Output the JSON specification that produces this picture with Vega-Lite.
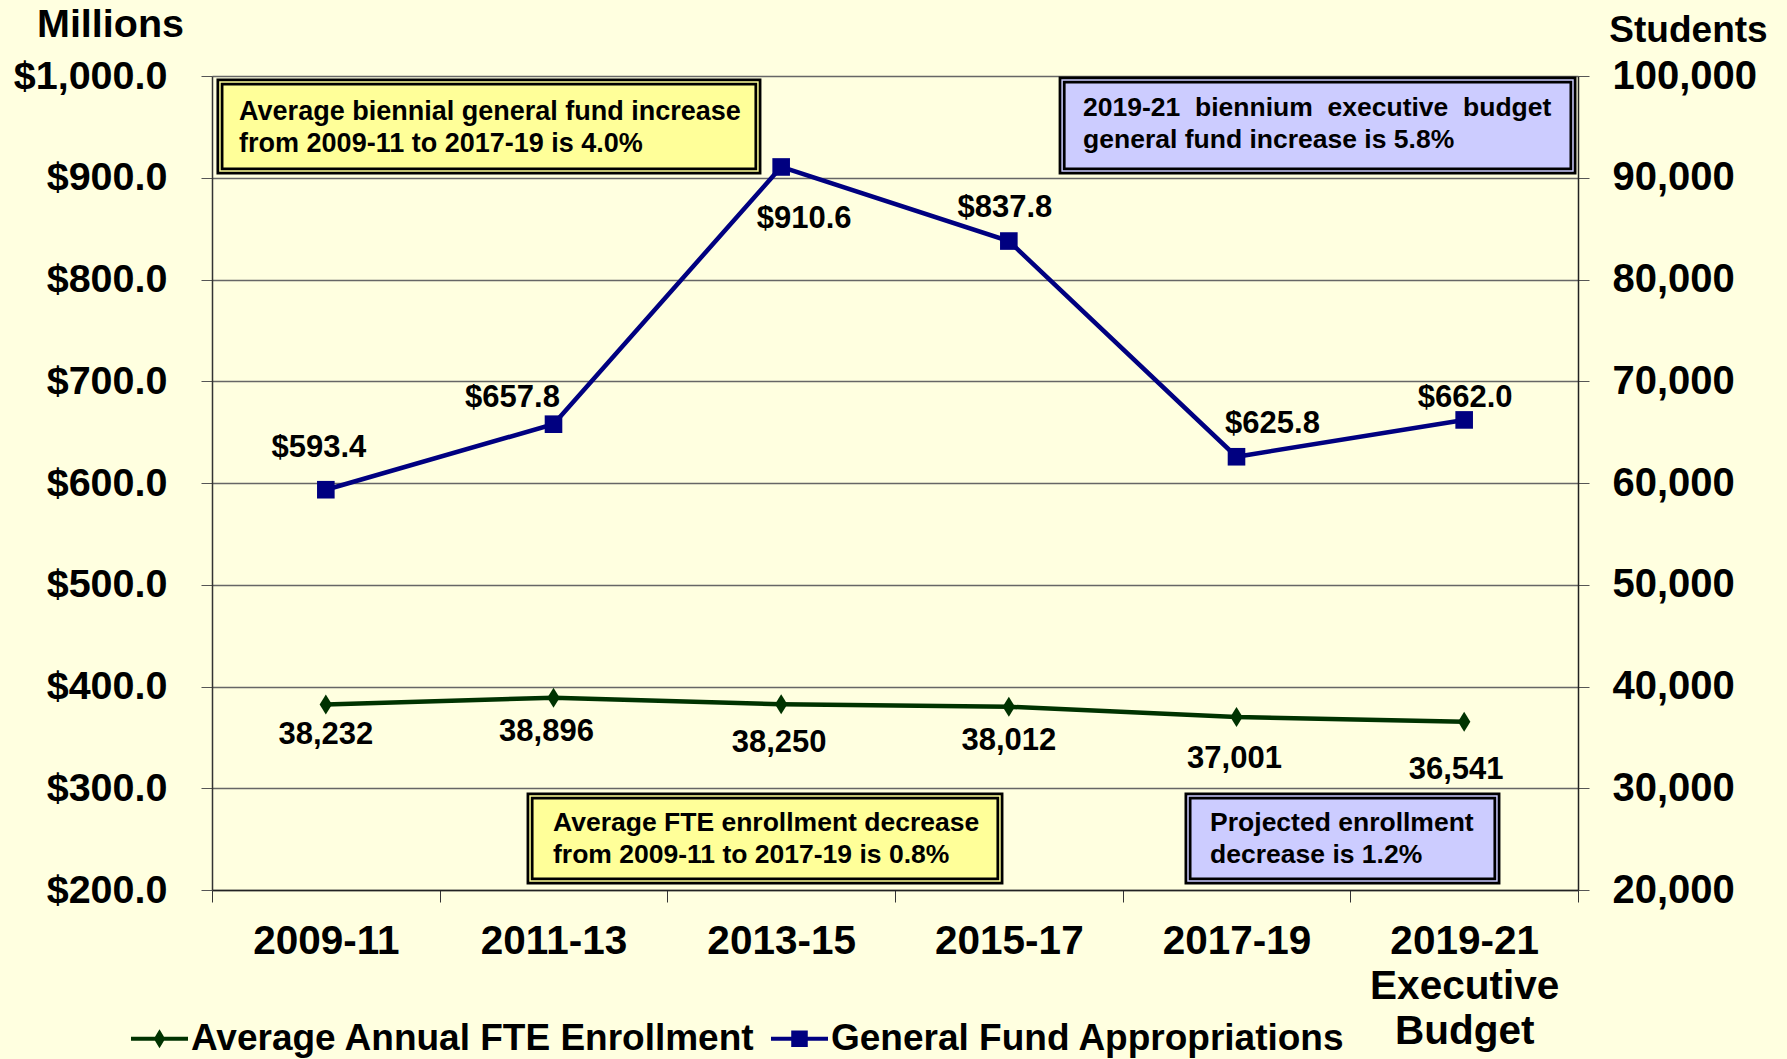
{
  "$schema": "https://vega.github.io/schema/vega-lite/v6.json",
  "width": 1366,
  "height": 814,
  "autosize": {"type": "none"},
  "padding": {"left": 212, "top": 76, "right": 209, "bottom": 169},
  "background": "#FFFFE0",
  "config": {
    "view": {"stroke": null},
    "font": "Liberation Sans",
    "axis": {"labelFont": "Liberation Sans", "labelFontWeight": "bold", "labelColor": "black", "titleFont": "Liberation Sans", "titleFontWeight": "bold", "titleColor": "black"},
    "legend": {"labelFont": "Liberation Sans", "labelFontWeight": "bold", "labelFontSize": 37, "labelColor": "black", "labelLimit": 0}
  },
  "data": {
    "values": [
      {"period": "2009-11", "series": "General Fund Appropriations", "value": 593.4},
      {"period": "2011-13", "series": "General Fund Appropriations", "value": 657.8},
      {"period": "2013-15", "series": "General Fund Appropriations", "value": 910.6},
      {"period": "2015-17", "series": "General Fund Appropriations", "value": 837.8},
      {"period": "2017-19", "series": "General Fund Appropriations", "value": 625.8},
      {"period": "2019-21 Executive Budget", "series": "General Fund Appropriations", "value": 662.0},
      {"period": "2009-11", "series": "Average Annual FTE Enrollment", "value": 38232},
      {"period": "2011-13", "series": "Average Annual FTE Enrollment", "value": 38896},
      {"period": "2013-15", "series": "Average Annual FTE Enrollment", "value": 38250},
      {"period": "2015-17", "series": "Average Annual FTE Enrollment", "value": 38012},
      {"period": "2017-19", "series": "Average Annual FTE Enrollment", "value": 37001},
      {"period": "2019-21 Executive Budget", "series": "Average Annual FTE Enrollment", "value": 36541}
    ]
  },
  "layer": [
    {
      "transform": [{"filter": "datum.series == 'General Fund Appropriations'"}],
      "encoding": {
        "x": {
          "field": "period", "type": "nominal", "sort": null,
          "scale": {"type": "band", "paddingInner": 0, "paddingOuter": 0},
          "axis": {
            "title": null, "labelAngle": 0, "labelFontSize": 40.5, "labelPadding": 19, "labelLimit": 0,
            "labelLineHeight": 45, "labelBaseline": "top",
            "labelExpr": "datum.value == '2019-21 Executive Budget' ? ['2019-21', 'Executive', 'Budget'] : datum.label",
            "tickBand": "extent", "tickSize": 12, "tickColor": "#333333", "domainColor": "#222222", "domainWidth": 1.5, "grid": false
          }
        },
        "y": {
          "field": "value", "type": "quantitative",
          "scale": {"domain": [200, 1000], "nice": false, "zero": false},
          "axis": {
            "orient": "left", "values": [200, 300, 400, 500, 600, 700, 800, 900, 1000], "format": "$,.1f",
            "labelFontSize": 39.5, "labelPadding": 34, "tickSize": 11, "tickColor": "#555555",
            "domainColor": "#333333", "domainWidth": 1.5,
            "grid": true, "gridColor": "#666666", "gridWidth": 1.5,
            "title": "Millions", "titleAngle": 0, "titleFontSize": 39.5, "titleAlign": "center", "titleBaseline": "alphabetic",
            "titleX": -102, "titleY": -40
          }
        }
      },
      "layer": [
        {
          "mark": {"type": "line", "strokeWidth": 4.5},
          "encoding": {
            "color": {
              "field": "series", "type": "nominal",
              "scale": {"domain": ["Average Annual FTE Enrollment", "General Fund Appropriations"], "range": ["#003300", "#000080"]},
              "legend": {
                "title": null, "orient": "none", "direction": "horizontal", "legendX": -81, "legendY": 934,
                "symbolSize": 3249, "symbolStrokeWidth": 0, "labelOffset": 3, "columnPadding": 16, "padding": 0,
                "labelFontSize": 37,
                "encode": {
                  "symbols": {
                    "update": {
                      "shape": {"signal": "datum.value === 'General Fund Appropriations' ? 'M-1,-0.07L1,-0.07L1,0.07L-1,0.07Z M-0.29,-0.29L0.29,-0.29L0.29,0.29L-0.29,0.29Z' : 'M-1,-0.07L1,-0.07L1,0.07L-1,0.07Z M0,-0.33L0.2,0L0,0.33L-0.2,0Z'"},
                      "fill": {"signal": "datum.value === 'General Fund Appropriations' ? '#000080' : '#003300'"},
                      "stroke": {"value": "transparent"},
                      "strokeWidth": {"value": 0},
                      "opacity": {"value": 1}
                    }
                  }
                }
              }
            }
          }
        },
        {
          "mark": {"type": "point", "shape": "square", "size": 310, "filled": true, "opacity": 1},
          "encoding": {"color": {"field": "series", "type": "nominal", "scale": {"domain": ["Average Annual FTE Enrollment", "General Fund Appropriations"], "range": ["#003300", "#000080"]}}}
        },
        {"transform": [{"filter": "datum.period == '2009-11'"}], "mark": {"type": "text", "dx": -7, "dy": -42, "fontSize": 31, "fontWeight": "bold", "baseline": "middle", "align": "center", "color": "black"}, "encoding": {"text": {"field": "value", "type": "quantitative", "format": "$,.1f"}}},
        {"transform": [{"filter": "datum.period == '2011-13'"}], "mark": {"type": "text", "dx": -41, "dy": -26, "fontSize": 31, "fontWeight": "bold", "baseline": "middle", "align": "center", "color": "black"}, "encoding": {"text": {"field": "value", "type": "quantitative", "format": "$,.1f"}}},
        {"transform": [{"filter": "datum.period == '2013-15'"}], "mark": {"type": "text", "dx": 23, "dy": 52, "fontSize": 31, "fontWeight": "bold", "baseline": "middle", "align": "center", "color": "black"}, "encoding": {"text": {"field": "value", "type": "quantitative", "format": "$,.1f"}}},
        {"transform": [{"filter": "datum.period == '2015-17'"}], "mark": {"type": "text", "dx": -4, "dy": -33, "fontSize": 31, "fontWeight": "bold", "baseline": "middle", "align": "center", "color": "black"}, "encoding": {"text": {"field": "value", "type": "quantitative", "format": "$,.1f"}}},
        {"transform": [{"filter": "datum.period == '2017-19'"}], "mark": {"type": "text", "dx": 36, "dy": -33, "fontSize": 31, "fontWeight": "bold", "baseline": "middle", "align": "center", "color": "black"}, "encoding": {"text": {"field": "value", "type": "quantitative", "format": "$,.1f"}}},
        {"transform": [{"filter": "datum.period == '2019-21 Executive Budget'"}], "mark": {"type": "text", "dx": 1, "dy": -22, "fontSize": 31, "fontWeight": "bold", "baseline": "middle", "align": "center", "color": "black"}, "encoding": {"text": {"field": "value", "type": "quantitative", "format": "$,.1f"}}}
      ]
    },
    {
      "transform": [{"filter": "datum.series == 'Average Annual FTE Enrollment'"}],
      "encoding": {
        "x": {
          "field": "period", "type": "nominal", "sort": null,
          "scale": {"type": "band", "paddingInner": 0, "paddingOuter": 0},
          "axis": null
        },
        "y": {
          "field": "value", "type": "quantitative",
          "scale": {"domain": [20000, 100000], "nice": false, "zero": false},
          "axis": {
            "orient": "right", "values": [20000, 30000, 40000, 50000, 60000, 70000, 80000, 90000, 100000], "format": ",d",
            "labelFontSize": 40, "labelPadding": 23, "tickSize": 11, "tickColor": "#555555",
            "domainColor": "#222222", "domainWidth": 1.5, "grid": false,
            "title": "Students", "titleAngle": 0, "titleFontSize": 37, "titleAlign": "center", "titleBaseline": "alphabetic",
            "titleX": 110, "titleY": -35
          }
        }
      },
      "layer": [
        {
          "mark": {"type": "line", "strokeWidth": 4.5},
          "encoding": {"color": {"field": "series", "type": "nominal", "scale": {"domain": ["Average Annual FTE Enrollment", "General Fund Appropriations"], "range": ["#003300", "#000080"]}}}
        },
        {
          "mark": {"type": "point", "shape": "M0,-1L0.62,0L0,1L-0.62,0Z", "size": 400, "filled": true, "opacity": 1},
          "encoding": {"color": {"field": "series", "type": "nominal", "scale": {"domain": ["Average Annual FTE Enrollment", "General Fund Appropriations"], "range": ["#003300", "#000080"]}}}
        },
        {"transform": [{"filter": "datum.period == '2009-11'"}], "mark": {"type": "text", "dx": 0, "dy": 31, "fontSize": 31, "fontWeight": "bold", "baseline": "middle", "align": "center", "color": "black"}, "encoding": {"text": {"field": "value", "type": "quantitative", "format": ",d"}}},
        {"transform": [{"filter": "datum.period == '2011-13'"}], "mark": {"type": "text", "dx": -7, "dy": 34, "fontSize": 31, "fontWeight": "bold", "baseline": "middle", "align": "center", "color": "black"}, "encoding": {"text": {"field": "value", "type": "quantitative", "format": ",d"}}},
        {"transform": [{"filter": "datum.period == '2013-15'"}], "mark": {"type": "text", "dx": -2, "dy": 39, "fontSize": 31, "fontWeight": "bold", "baseline": "middle", "align": "center", "color": "black"}, "encoding": {"text": {"field": "value", "type": "quantitative", "format": ",d"}}},
        {"transform": [{"filter": "datum.period == '2015-17'"}], "mark": {"type": "text", "dx": 0, "dy": 34, "fontSize": 31, "fontWeight": "bold", "baseline": "middle", "align": "center", "color": "black"}, "encoding": {"text": {"field": "value", "type": "quantitative", "format": ",d"}}},
        {"transform": [{"filter": "datum.period == '2017-19'"}], "mark": {"type": "text", "dx": -2, "dy": 42, "fontSize": 31, "fontWeight": "bold", "baseline": "middle", "align": "center", "color": "black"}, "encoding": {"text": {"field": "value", "type": "quantitative", "format": ",d"}}},
        {"transform": [{"filter": "datum.period == '2019-21 Executive Budget'"}], "mark": {"type": "text", "dx": -8, "dy": 48, "fontSize": 31, "fontWeight": "bold", "baseline": "middle", "align": "center", "color": "black"}, "encoding": {"text": {"field": "value", "type": "quantitative", "format": ",d"}}}
      ]
    },
    {
      "data": {"values": [{}]},
      "encoding": {
        "x": {"datum": 0, "type": "quantitative", "scale": {"domain": [0, 6], "nice": false, "zero": false}, "axis": null},
        "y": {"datum": 200, "type": "quantitative", "scale": {"domain": [200, 1000], "nice": false, "zero": false}, "axis": null}
      },
      "layer": [
        {"mark": {"type": "rect", "fill": "#FFFF99", "stroke": "black", "strokeWidth": 7}, "encoding": {"x": {"datum": 0.035, "type": "quantitative"}, "x2": {"datum": 2.398}, "y": {"datum": 994.1, "type": "quantitative"}, "y2": {"datum": 906.6}}},
        {"mark": {"type": "rect", "fillOpacity": 0, "stroke": "#FFFF99", "strokeWidth": 1.5}, "encoding": {"x": {"datum": 0.035, "type": "quantitative"}, "x2": {"datum": 2.398}, "y": {"datum": 994.1, "type": "quantitative"}, "y2": {"datum": 906.6}}},
        {"mark": {"type": "text", "text": ["Average biennial general fund increase", "from 2009-11 to 2017-19 is 4.0%"], "align": "left", "baseline": "middle", "fontSize": 27, "fontWeight": "bold", "lineHeight": 32, "color": "black"}, "encoding": {"x": {"datum": 0.119, "type": "quantitative"}, "y": {"datum": 964.6, "type": "quantitative"}}},

        {"mark": {"type": "rect", "fill": "#CCCCFF", "stroke": "black", "strokeWidth": 7}, "encoding": {"x": {"datum": 3.734, "type": "quantitative"}, "x2": {"datum": 5.978}, "y": {"datum": 996.1, "type": "quantitative"}, "y2": {"datum": 906.6}}},
        {"mark": {"type": "rect", "fillOpacity": 0, "stroke": "#CCCCFF", "strokeWidth": 1.5}, "encoding": {"x": {"datum": 3.734, "type": "quantitative"}, "x2": {"datum": 5.978}, "y": {"datum": 996.1, "type": "quantitative"}, "y2": {"datum": 906.6}}},
        {"mark": {"type": "text", "text": ["2019-21\u00a0\u00a0biennium\u00a0\u00a0executive\u00a0\u00a0budget", "general fund increase is 5.8%"], "align": "left", "baseline": "middle", "fontSize": 26.5, "fontWeight": "bold", "lineHeight": 32, "color": "black"}, "encoding": {"x": {"datum": 3.826, "type": "quantitative"}, "y": {"datum": 968.6, "type": "quantitative"}}},

        {"mark": {"type": "rect", "fill": "#FFFF99", "stroke": "black", "strokeWidth": 7}, "encoding": {"x": {"datum": 1.397, "type": "quantitative"}, "x2": {"datum": 3.461}, "y": {"datum": 292.4, "type": "quantitative"}, "y2": {"datum": 208.9}}},
        {"mark": {"type": "rect", "fillOpacity": 0, "stroke": "#FFFF99", "strokeWidth": 1.5}, "encoding": {"x": {"datum": 1.397, "type": "quantitative"}, "x2": {"datum": 3.461}, "y": {"datum": 292.4, "type": "quantitative"}, "y2": {"datum": 208.9}}},
        {"mark": {"type": "text", "text": ["Average FTE enrollment decrease", "from 2009-11 to 2017-19 is 0.8%"], "align": "left", "baseline": "middle", "fontSize": 26.5, "fontWeight": "bold", "lineHeight": 32, "color": "black"}, "encoding": {"x": {"datum": 1.498, "type": "quantitative"}, "y": {"datum": 265.8, "type": "quantitative"}}},

        {"mark": {"type": "rect", "fill": "#CCCCFF", "stroke": "black", "strokeWidth": 7}, "encoding": {"x": {"datum": 4.287, "type": "quantitative"}, "x2": {"datum": 5.644}, "y": {"datum": 292.4, "type": "quantitative"}, "y2": {"datum": 208.9}}},
        {"mark": {"type": "rect", "fillOpacity": 0, "stroke": "#CCCCFF", "strokeWidth": 1.5}, "encoding": {"x": {"datum": 4.287, "type": "quantitative"}, "x2": {"datum": 5.644}, "y": {"datum": 292.4, "type": "quantitative"}, "y2": {"datum": 208.9}}},
        {"mark": {"type": "text", "text": ["Projected enrollment", "decrease is 1.2%"], "align": "left", "baseline": "middle", "fontSize": 26.5, "fontWeight": "bold", "lineHeight": 32, "color": "black"}, "encoding": {"x": {"datum": 4.384, "type": "quantitative"}, "y": {"datum": 265.8, "type": "quantitative"}}}
      ]
    }
  ],
  "resolve": {"scale": {"x": "independent", "y": "independent"}}
}
